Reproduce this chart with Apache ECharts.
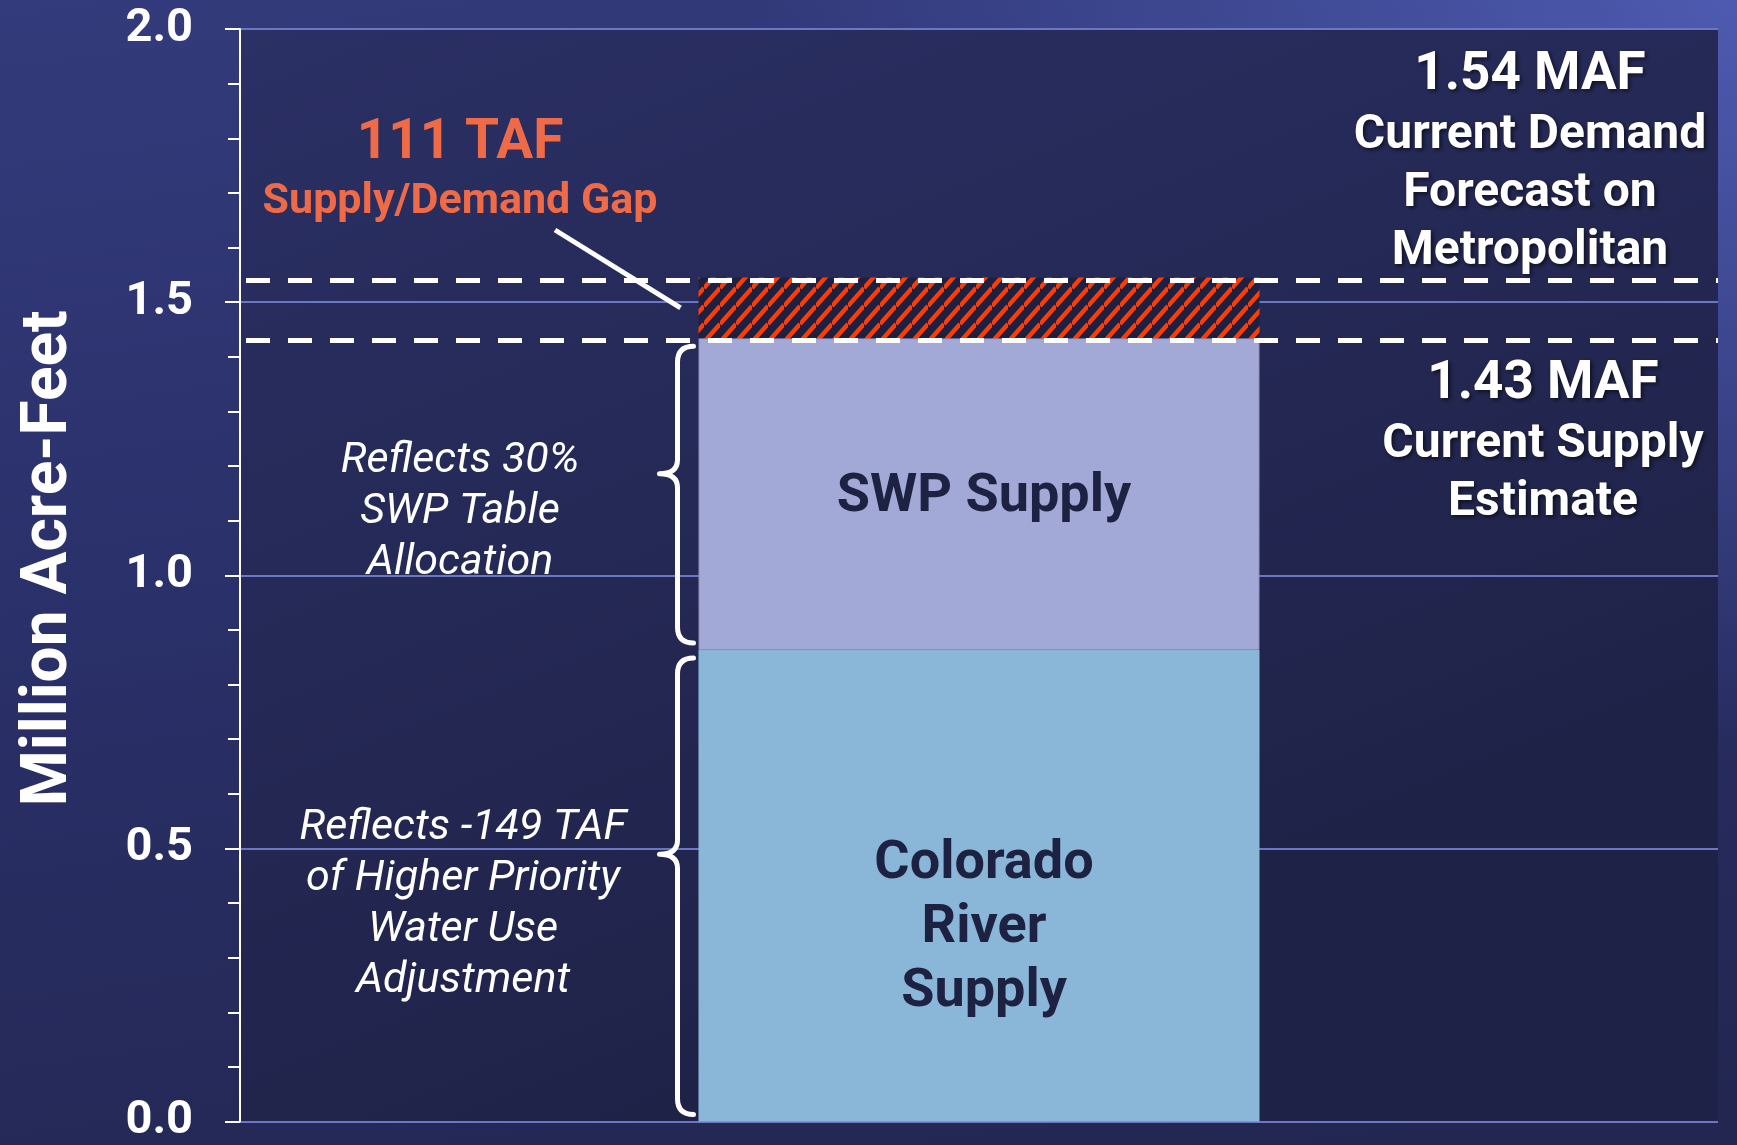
<!DOCTYPE html>
<html>
<head>
<meta charset="utf-8">
<script src="https://cdn.jsdelivr.net/npm/echarts@6/dist/echarts.min.js"></script>
<style>
html, body { margin: 0; padding: 0; }
#main {
    width: 1737px;
    height: 1145px;
    background:
        radial-gradient(ellipse 1000px 760px at 100% 0%, rgba(80, 94, 182, 0.9), rgba(80, 94, 182, 0) 100%),
        linear-gradient(172deg, #333b7c 0%, #2a3069 45%, #222650 100%);
}
</style>
</head>
<body>
<div id="main"></div>
<script>
// values (million acre-feet)
var categories = ['Metropolitan'];
var coloradoSupply = [0.863];
var swpSupply = [0.571];
var supplyGap = [0.111];
var currentSupply = coloradoSupply[0] + swpSupply[0];   // 1.43 MAF
var currentDemand = currentSupply + supplyGap[0];       // 1.54 MAF
var yMin = 0, yMax = 2, yStep = 0.5;

var barW = 561;
var font = 'Roboto';

// orange hatch for the gap
function hatch() {
    var w = 16, h = 18;
    var c = document.createElement('canvas');
    c.width = w; c.height = h;
    var ctx = c.getContext('2d');
    ctx.fillStyle = '#1e2042';
    ctx.fillRect(0, 0, w, h);
    ctx.strokeStyle = '#ff3d00';
    ctx.lineWidth = 4.4;
    for (var k = -1; k <= 1; k++) {
        ctx.beginPath();
        ctx.moveTo(0, h + k * h);
        ctx.lineTo(w, k * h);
        ctx.stroke();
    }
    return c;
}

// brace ranges follow the stacked segments
var braceData = [
    [0, 0, coloradoSupply[0]],
    [0, coloradoSupply[0], currentSupply]
];

function renderBrace(params, api) {
    var top = api.coord([api.value(0), api.value(2)]);
    var bot = api.coord([api.value(0), api.value(1)]);
    var x = top[0] - barW / 2 - 21;
    var yt = top[1] + 8;
    var yb = bot[1] - 7;
    var tip = yt + (yb - yt) * 0.43;
    var d = 'M' + (x + 16) + ' ' + yt +
        ' Q' + x + ' ' + yt + ' ' + x + ' ' + (yt + 16) +
        ' L' + x + ' ' + (tip - 14) +
        ' Q' + x + ' ' + tip + ' ' + (x - 18) + ' ' + tip +
        ' Q' + x + ' ' + tip + ' ' + x + ' ' + (tip + 14) +
        ' L' + x + ' ' + (yb - 16) +
        ' Q' + x + ' ' + yb + ' ' + (x + 16) + ' ' + yb;
    return {
        type: 'path',
        shape: { pathData: d },
        style: { stroke: '#ffffff', lineWidth: 5, fill: 'none', lineCap: 'round', lineJoin: 'round' }
    };
}

var chart = echarts.init(document.getElementById('main'), null, { renderer: 'canvas' });

var option = {
    backgroundColor: 'transparent',
    animation: false,
    grid: {
        left: 240, right: 19, top: 29, bottom: 20,
        show: true,
        borderWidth: 0,
        backgroundColor: new echarts.graphic.LinearGradient(0, 0, 0.3, 1, [
            { offset: 0, color: '#2b3065' },
            { offset: 1, color: '#1f2247' }
        ])
    },
    xAxis: {
        type: 'category',
        data: categories,
        axisLine: { show: false },
        axisTick: { show: false },
        axisLabel: { show: false },
        splitLine: { show: false }
    },
    yAxis: {
        type: 'value',
        min: yMin, max: yMax, interval: yStep,
        name: 'Million Acre-Feet',
        nameLocation: 'middle',
        nameGap: 158,
        nameTextStyle: { color: '#ffffff', fontSize: 64, fontWeight: 'bold', fontFamily: font, padding: [0, 0, 0, 34] },
        axisLine: { show: true, lineStyle: { color: '#ffffff', width: 2 } },
        axisTick: { show: true, length: 15, lineStyle: { color: '#ffffff', width: 2 } },
        minorTick: { show: true, splitNumber: 5, length: 12, lineStyle: { color: '#ffffff', width: 2 } },
        axisLabel: {
            color: '#ffffff', fontSize: 47, fontWeight: 'bold', fontFamily: font, margin: 47,
            formatter: function (v) { return v.toFixed(1); }
        },
        splitLine: { show: true, lineStyle: { color: '#6b77c4', width: 2 } },
        minorSplitLine: { show: false }
    },
    series: [
        {
            name: 'Colorado River Supply',
            type: 'bar',
            stack: 'total',
            barWidth: barW,
            data: coloradoSupply,
            itemStyle: { color: '#8ab7d7' },
            label: {
                show: true, position: 'inside', offset: [5, 43],
                formatter: 'Colorado\nRiver\nSupply',
                color: '#1d2142', fontSize: 54, fontWeight: 'bold', fontFamily: font, lineHeight: 64
            },
            emphasis: { disabled: true }
        },
        {
            name: 'SWP Supply',
            type: 'bar',
            stack: 'total',
            barWidth: barW,
            data: swpSupply,
            itemStyle: { color: '#a2a9d7', borderColor: '#978db4', borderWidth: 1 },
            label: {
                show: true, position: 'inside', offset: [5, 3],
                formatter: 'SWP Supply',
                color: '#1d2142', fontSize: 54, fontWeight: 'bold', fontFamily: font
            },
            emphasis: { disabled: true }
        },
        {
            name: 'Supply/Demand Gap',
            type: 'bar',
            stack: 'total',
            barWidth: barW,
            data: supplyGap,
            itemStyle: { color: { image: hatch(), repeat: 'repeat' } },
            emphasis: { disabled: true },
            markLine: {
                silent: true,
                symbol: ['none', 'none'],
                label: { show: false },
                lineStyle: { color: '#ffffff', width: 5, type: [24, 18], dashOffset: 36 },
                data: [{ yAxis: currentDemand }, { yAxis: currentSupply }]
            }
        },
        {
            name: 'braces',
            type: 'custom',
            renderItem: renderBrace,
            data: braceData,
            encode: { x: 0, y: [1, 2] },
            z: 6,
            silent: true
        }
    ]
};
chart.setOption(option);

// annotation text, anchored to the axis values
var demandY = chart.convertToPixel({ gridIndex: 0 }, [0, currentDemand])[1];
var supplyY = chart.convertToPixel({ gridIndex: 0 }, [0, currentSupply])[1];
var barCx = chart.convertToPixel({ gridIndex: 0 }, [0, 0])[0];
var gapMidY = chart.convertToPixel({ gridIndex: 0 }, [0, (currentDemand + currentSupply) / 2])[1];
var shadow = { textShadowColor: 'rgba(0,0,0,0.6)', textShadowBlur: 4, textShadowOffsetX: 2, textShadowOffsetY: 2 };

function richText(x, y, text, rich, va) {
    return {
        type: 'text', x: x, y: y, z: 100, silent: true,
        style: { text: text, rich: rich, align: 'center', verticalAlign: va }
    };
}

chart.setOption({
    graphic: [
        richText(1530, demandY + 3,
            '{a|1.54 MAF}\n{b|Current Demand}\n{b|Forecast on}\n{b|Metropolitan}', {
                a: Object.assign({ fill: '#fff', fontSize: 53, fontWeight: 'bold', fontFamily: font, lineHeight: 62, align: 'center' }, shadow),
                b: Object.assign({ fill: '#fff', fontSize: 48, fontWeight: 'bold', fontFamily: font, lineHeight: 58, align: 'center' }, shadow)
            }, 'bottom'),
        richText(1543, supplyY + 16,
            '{a|1.43 MAF}\n{b|Current Supply}\n{b|Estimate}', {
                a: Object.assign({ fill: '#fff', fontSize: 53, fontWeight: 'bold', fontFamily: font, lineHeight: 62, align: 'center' }, shadow),
                b: Object.assign({ fill: '#fff', fontSize: 48, fontWeight: 'bold', fontFamily: font, lineHeight: 58, align: 'center' }, shadow)
            }, 'top'),
        richText(460, 113,
            '{a|111 TAF}\n{b|Supply/Demand Gap}', {
                a: { fill: '#ef6a46', fontSize: 55, fontWeight: 'bold', fontFamily: font, lineHeight: 62, align: 'center' },
                b: { fill: '#ef6a46', fontSize: 43, fontWeight: 'bold', fontFamily: font, lineHeight: 54, align: 'center' }
            }, 'top'),
        {
            type: 'line', z: 100, silent: true,
            shape: { x1: 555, y1: 230, x2: barCx - barW / 2 - 18, y2: gapMidY },
            style: { stroke: '#ffffff', lineWidth: 5 }
        },
        {
            type: 'text', x: 460, y: 512, z: 100, silent: true,
            style: {
                text: 'Reflects 30%\nSWP Table\nAllocation',
                fill: '#fff', fontSize: 43, fontStyle: 'italic', fontWeight: 'normal', fontFamily: font,
                lineHeight: 51, align: 'center', verticalAlign: 'middle'
            }
        },
        {
            type: 'text', x: 463, y: 905, z: 100, silent: true,
            style: {
                text: 'Reflects -149 TAF\nof Higher Priority\nWater Use\nAdjustment',
                fill: '#fff', fontSize: 43, fontStyle: 'italic', fontWeight: 'normal', fontFamily: font,
                lineHeight: 51, align: 'center', verticalAlign: 'middle'
            }
        }
    ]
});
</script>
</body>
</html>
